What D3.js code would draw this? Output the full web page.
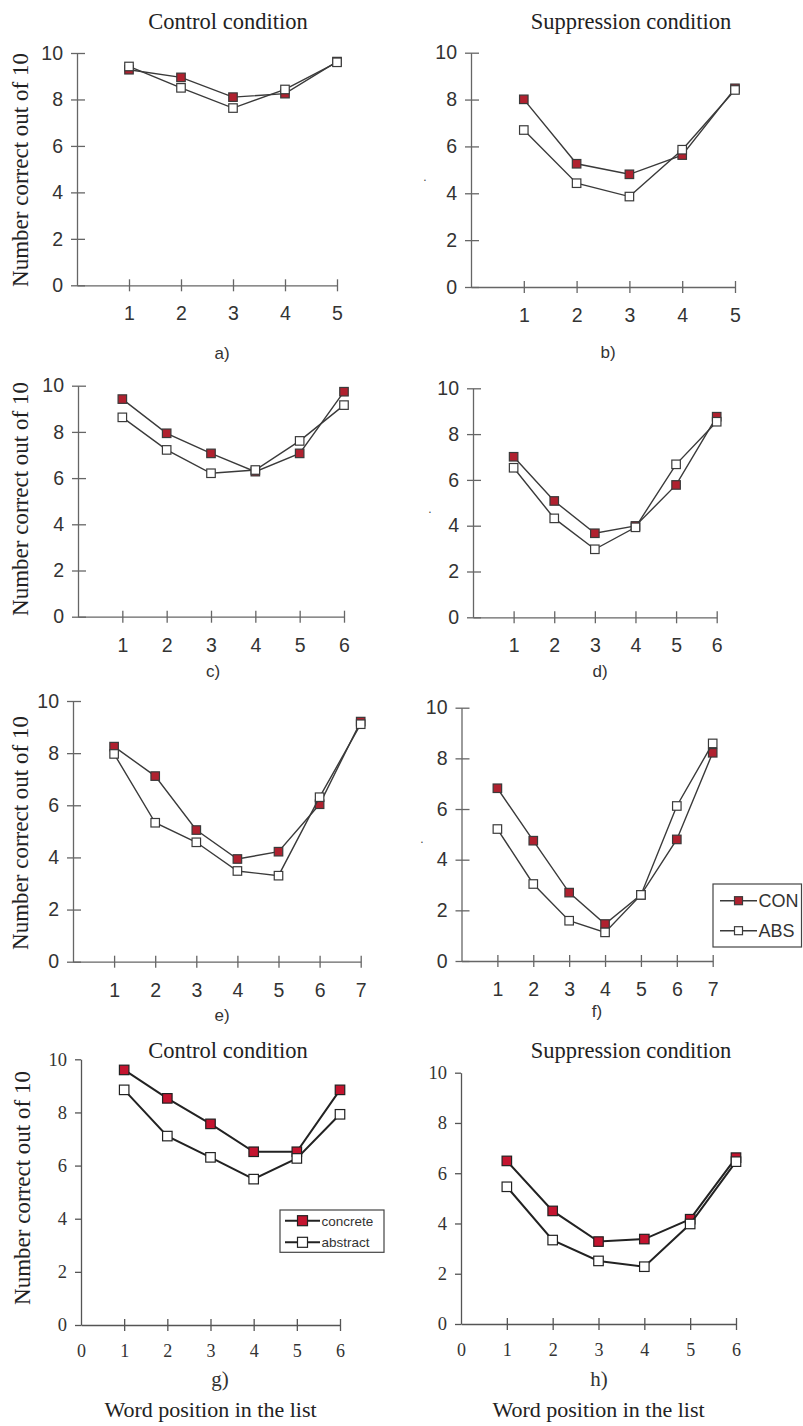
<!DOCTYPE html>
<html>
<head>
<meta charset="utf-8">
<script src="https://cdn.jsdelivr.net/npm/d3@7"></script>
<style>
  body { margin: 0; background: #fff; }
  svg { display: block; }
</style>
</head>
<body>
<div id="chart"></div>
<script>
// values: number correct out of 10, by word position (1..n)
const yTicks = [0, 2, 4, 6, 8, 10];

const conA = [9.28, 8.95, 8.1, 8.25, 9.63];
const absA = [9.42, 8.5, 7.63, 8.43, 9.6];
const conB = [8.01, 5.26, 4.81, 5.63, 8.48];
const absB = [6.7, 4.43, 3.86, 5.86, 8.41];
const conC = [9.42, 7.94, 7.07, 6.28, 7.07, 9.74];
const absC = [8.63, 7.22, 6.21, 6.35, 7.61, 9.16];
const conD = [7.01, 5.08, 3.67, 3.99, 5.78, 8.76];
const absD = [6.53, 4.32, 2.97, 3.93, 6.68, 8.54];
const conE = [8.25, 7.12, 5.05, 3.94, 4.22, 6.04, 9.21];
const absE = [7.97, 5.33, 4.58, 3.48, 3.3, 6.31, 9.11];
const conF = [6.82, 4.75, 2.7, 1.46, 2.61, 4.8, 8.22];
const absF = [5.21, 3.04, 1.59, 1.13, 2.61, 6.12, 8.59];
const conG = [9.6, 8.53, 7.57, 6.52, 6.52, 8.85];
const absG = [8.85, 7.11, 6.31, 5.49, 6.27, 7.93];
const conH = [6.49, 4.5, 3.28, 3.38, 4.17, 6.62];
const absH = [5.46, 3.34, 2.51, 2.28, 3.98, 6.46];

const legendUpper = ['CON', 'ABS'];
const legendLower = ['concrete', 'abstract'];

const yLabelText = 'Number correct out of 10';
const xLabelText = 'Word position in the list';

const SANS = '"Liberation Sans", Arial, sans-serif';
const SERIF = '"Liberation Serif", "Times New Roman", serif';

const panels = [
  { con: conA, abs: absA, left: 77, right: 337, top: 53, bottom: 285.3, kind: 'old',
    title: 'Control condition', titleX: 228, titleY: 29, tag: 'a)', tagX: 222, tagY: 359, yLab: 170 },
  { con: conB, abs: absB, left: 471, right: 735, top: 52.7, bottom: 287, kind: 'old',
    title: 'Suppression condition', titleX: 631, titleY: 28.5, tag: 'b)', tagX: 608, tagY: 358, dot: [425, 178] },
  { con: conC, abs: absC, left: 78, right: 344, top: 385.7, bottom: 616.7, kind: 'old',
    tag: 'c)', tagX: 213, tagY: 677, yLab: 499 },
  { con: conD, abs: absD, left: 473, right: 716.7, top: 388.3, bottom: 617.3, kind: 'old',
    tag: 'd)', tagX: 600, tagY: 677, dot: [430, 510] },
  { con: conE, abs: absE, left: 73, right: 360.7, top: 701, bottom: 961.7, kind: 'old',
    tag: 'e)', tagX: 222, tagY: 1021, yLab: 833 },
  { con: conF, abs: absF, left: 461.5, right: 712.7, top: 707.7, bottom: 961, kind: 'old',
    tag: 'f)', tagX: 597, tagY: 1017, dot: [422, 840],
    legend: { names: legendUpper, x: 713, y: 884, w: 88.5, h: 63, rows: [16.7, 46.7], lineW: 37, text: 18 } },
  { con: conG, abs: absG, left: 81, right: 340, top: 1059.3, bottom: 1325, kind: 'new',
    title: 'Control condition', titleX: 228, titleY: 1058, tag: 'g)', tagX: 220, tagY: 1386, yLab: 1188,
    legend: { names: legendLower, x: 280, y: 1210, w: 104, h: 42.3, rows: [10.7, 32.3], lineW: 35, text: 13.5 } },
  { con: conH, abs: absH, left: 461, right: 736, top: 1072.7, bottom: 1324, kind: 'new',
    title: 'Suppression condition', titleX: 631, titleY: 1058, tag: 'h)', tagX: 599, tagY: 1386 }
];

const svg = d3.select('#chart').append('svg')
  .attr('width', 803)
  .attr('height', 1426);

const fmt = d3.format('d');

panels.forEach(p => {
  const old = p.kind === 'old';
  const n = p.con.length;
  const font = old ? SANS : SERIF;
  const red = old ? '#b0212f' : '#c4142f';
  const lineCol = old ? '#3a3a3a' : '#222';
  const axisCol = old ? '#666' : '#555';
  const markSize = old ? 8.5 : 9.5;
  const lineW = old ? 1.4 : 2;

  const x = d3.scaleLinear().domain([0, n]).range([p.left, p.right]);
  const y = d3.scaleLinear().domain([0, 10]).range([p.bottom, p.top]);

  const g = svg.append('g');

  // y axis
  const yAxis = g.append('g')
    .attr('transform', `translate(${p.left},0)`)
    .call(d3.axisLeft(y).tickValues(yTicks).tickFormat(fmt)
      .tickSize(6).tickSizeOuter(0).tickPadding(8));
  yAxis.style('color', axisCol);
  yAxis.selectAll('.domain').attr('stroke-width', 1.3);
  yAxis.selectAll('.tick line').attr('stroke-width', 1.3).attr('x1', old ? 8 : 0);
  yAxis.selectAll('.tick text')
    .attr('fill', '#333')
    .style('font-family', font)
    .style('font-size', (old ? 19.5 : 18.5) + 'px');

  // x axis
  const xVals = old ? d3.range(1, n + 1) : d3.range(0, n + 1);
  const xAxis = g.append('g')
    .attr('transform', `translate(0,${p.bottom})`)
    .call(d3.axisBottom(x).tickValues(xVals).tickFormat(fmt)
      .tickSize(6).tickSizeOuter(0).tickPadding(old ? 15 : 13));
  xAxis.style('color', axisCol);
  xAxis.selectAll('.domain').attr('stroke-width', 1.3);
  xAxis.selectAll('.tick line').attr('stroke-width', 1.3).attr('y1', -6)
    .attr('display', d => d === 0 ? 'none' : null);
  xAxis.selectAll('.tick text')
    .attr('fill', '#333')
    .style('font-family', font)
    .style('font-size', (old ? 19.5 : 18) + 'px');

  const line = d3.line()
    .x((d, i) => x(i + 1))
    .y(d => y(d));

  // concrete first, abstract drawn on top
  [[p.con, red], [p.abs, '#fff']].forEach(([vals, fill]) => {
    g.append('path')
      .datum(vals)
      .attr('fill', 'none')
      .attr('stroke', lineCol)
      .attr('stroke-width', lineW)
      .attr('d', line);
    g.selectAll(null)
      .data(vals)
      .enter().append('rect')
        .attr('x', (d, i) => x(i + 1) - markSize / 2)
        .attr('y', d => y(d) - markSize / 2)
        .attr('width', markSize)
        .attr('height', markSize)
        .attr('fill', fill)
        .attr('stroke', lineCol)
        .attr('stroke-width', 1.2);
  });

  if (p.title) {
    g.append('text')
      .attr('x', p.titleX).attr('y', p.titleY)
      .attr('text-anchor', 'middle')
      .attr('font-family', SERIF)
      .attr('font-size', 22.5)
      .attr('fill', '#222')
      .text(p.title);
  }

  g.append('text')
    .attr('x', p.tagX).attr('y', p.tagY)
    .attr('text-anchor', 'middle')
    .attr('font-family', font)
    .attr('font-size', old ? 17 : 21)
    .attr('fill', '#333')
    .text(p.tag);

  if (p.yLab) {
    g.append('text')
      .attr('transform', `translate(${old ? 28 : 30},${p.yLab}) rotate(-90)`)
      .attr('text-anchor', 'middle')
      .attr('font-family', SERIF)
      .attr('font-size', 23)
      .attr('fill', '#222')
      .text(yLabelText);
  }

  if (!old) {
    g.append('text')
      .attr('x', (p.left + p.right) / 2 + 0).attr('y', 1417)
      .attr('text-anchor', 'middle')
      .attr('font-family', SERIF)
      .attr('font-size', 22)
      .attr('fill', '#222')
      .text(xLabelText);
  }

  if (p.dot) {
    g.append('text')
      .attr('x', p.dot[0]).attr('y', p.dot[1] + 3)
      .attr('text-anchor', 'middle')
      .attr('font-family', SANS)
      .attr('font-size', 12)
      .attr('fill', '#444')
      .text('.');
  }

  if (p.legend) {
    const L = p.legend;
    const lg = g.append('g').attr('transform', `translate(${L.x},${L.y})`);
    lg.append('rect')
      .attr('width', L.w).attr('height', L.h)
      .attr('fill', '#fff')
      .attr('stroke', '#444')
      .attr('stroke-width', 1.2);
    L.names.forEach((name, i) => {
      const ry = L.rows[i];
      const lx0 = old ? 7 : 5;
      lg.append('line')
        .attr('x1', lx0).attr('x2', lx0 + L.lineW)
        .attr('y1', ry).attr('y2', ry)
        .attr('stroke', lineCol).attr('stroke-width', lineW);
      const ms = old ? 8 : 10;
      lg.append('rect')
        .attr('x', lx0 + L.lineW / 2 - ms / 2).attr('y', ry - ms / 2)
        .attr('width', ms).attr('height', ms)
        .attr('fill', i === 0 ? red : '#fff')
        .attr('stroke', lineCol).attr('stroke-width', 1.2);
      lg.append('text')
        .attr('x', lx0 + L.lineW + 1.5).attr('y', ry)
        .attr('dy', '0.36em')
        .attr('font-family', SANS)
        .attr('font-size', L.text)
        .attr('fill', '#333')
        .text(name);
    });
  }
});
</script>
</body>
</html>
